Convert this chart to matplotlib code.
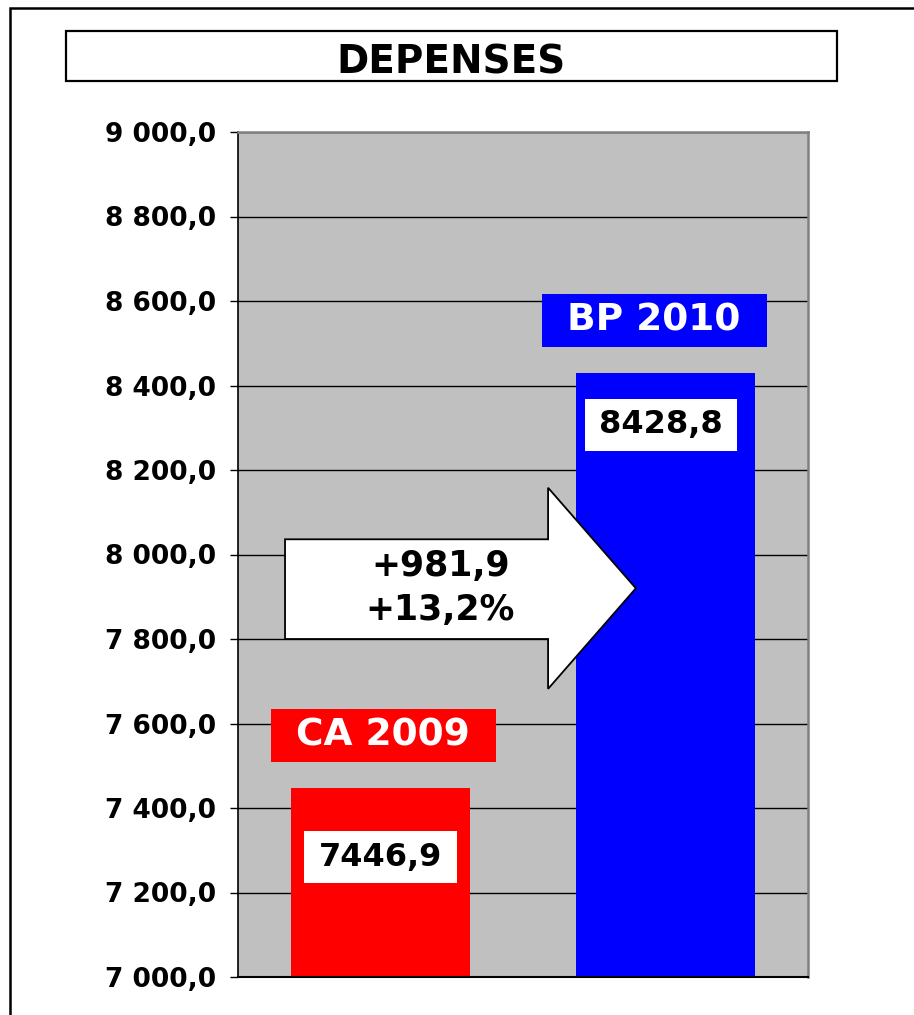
import numpy as np
import matplotlib
matplotlib.use("Agg")
import matplotlib.pyplot as plt
from matplotlib.patches import Rectangle, Polygon
from matplotlib.ticker import FuncFormatter

# data
categories = ["CA 2009", "BP 2010"]
values = [7446.9, 8428.8]
bar_colors = ["#ff0000", "#0000ff"]
title = "DEPENSES"
ymin, ymax, ystep = 7000, 9000, 200

plt.rcParams["font.family"] = ["DejaVu Sans"]
plt.rcParams["font.weight"] = "bold"

fig = plt.figure(figsize=(9.14, 10.15), dpi=100)
W, H = 914, 1015

# outer frame (clipped at right and bottom like the source)
fig.patches.append(Rectangle((10 / W, -0.05), 1.1, 1 - 8 / H + 0.05, transform=fig.transFigure,
                             fill=False, ec="black", lw=1.8, zorder=0))
# title box
fig.patches.append(Rectangle((66 / W, 1 - 81 / H), (837 - 66) / W, 50 / H, transform=fig.transFigure,
                             fc="white", ec="black", lw=1.6, zorder=1))
fig.text((66 + 837) / 2 / W, 1 - 62 / H, title, ha="center", va="center",
         fontsize=28, fontweight="bold", zorder=2)

ax = fig.add_axes([238 / W, 1 - 977 / H, 570 / W, 845 / H])
ax.set_facecolor("#c0c0c0")
x = np.arange(len(categories))
ax.bar(x, values, width=0.63, color=bar_colors, zorder=2)
ax.set_xlim(-0.5, 1.5)
ax.set_ylim(ymin, ymax)
ax.set_yticks(np.arange(ymin, ymax + 1, ystep))
ax.yaxis.set_major_formatter(FuncFormatter(
    lambda v, p: f"{v:,.1f}".replace(",", " ").replace(".", ",")))
ax.tick_params(axis="y", labelsize=19, length=6, width=1, pad=10, direction="out")
for lab in ax.get_yticklabels():
    lab.set_fontweight("bold")
ax.set_xticks([])
ax.grid(axis="y", color="black", lw=1, zorder=1)
ax.set_axisbelow(True)
ax.spines["left"].set_color("black")
ax.spines["bottom"].set_color("black")
ax.spines["left"].set_linewidth(1.2)
ax.spines["bottom"].set_linewidth(1.5)
for s in ["top", "right"]:
    ax.spines[s].set_color("#808080")
    ax.spines[s].set_linewidth(1.8)

# category label boxes above bars, value boxes inside bars
cat_dx = [0.01, -0.04]
for xi, v, c, name, dx in zip(x, values, bar_colors, categories, cat_dx):
    ax.add_patch(Rectangle((xi + dx - 0.395, v + 62), 0.79, 126, fc=c, ec="none", zorder=4))
    ax.text(xi + dx, v + 125, name, ha="center", va="center", color="white",
            fontsize=27, fontweight="bold", zorder=5)

val_dy = [-163, -122]
val_dx = [0.0, -0.016]
for xi, v, dy, dx in zip(x, values, val_dy, val_dx):
    ax.add_patch(Rectangle((xi + dx - 0.268, v + dy - 61), 0.536, 122, fc="white", ec="none", zorder=4))
    ax.text(xi + dx, v + dy, f"{v:.1f}".replace(".", ","), ha="center", va="center",
            color="black", fontsize=23, fontweight="bold", zorder=5)

# arrow with difference
diff = values[1] - values[0]
pct = diff / values[0] * 100
arrow_pts = [(0.0825, 0.518), (0.544, 0.518), (0.544, 0.579), (0.698, 0.460),
             (0.544, 0.341), (0.544, 0.400), (0.0825, 0.400)]
ax.add_patch(Polygon(arrow_pts, closed=True, transform=ax.transAxes, fc="white",
                     ec="black", lw=1.3, zorder=6))
ax.text(0.355, 0.486, f"+{diff:.1f}".replace(".", ","), transform=ax.transAxes,
        ha="center", va="center", fontsize=25, fontweight="bold", zorder=7)
ax.text(0.355, 0.434, f"+{pct:.1f}%".replace(".", ","), transform=ax.transAxes,
        ha="center", va="center", fontsize=25, fontweight="bold", zorder=7)

fig.savefig("out.png", dpi=100)
